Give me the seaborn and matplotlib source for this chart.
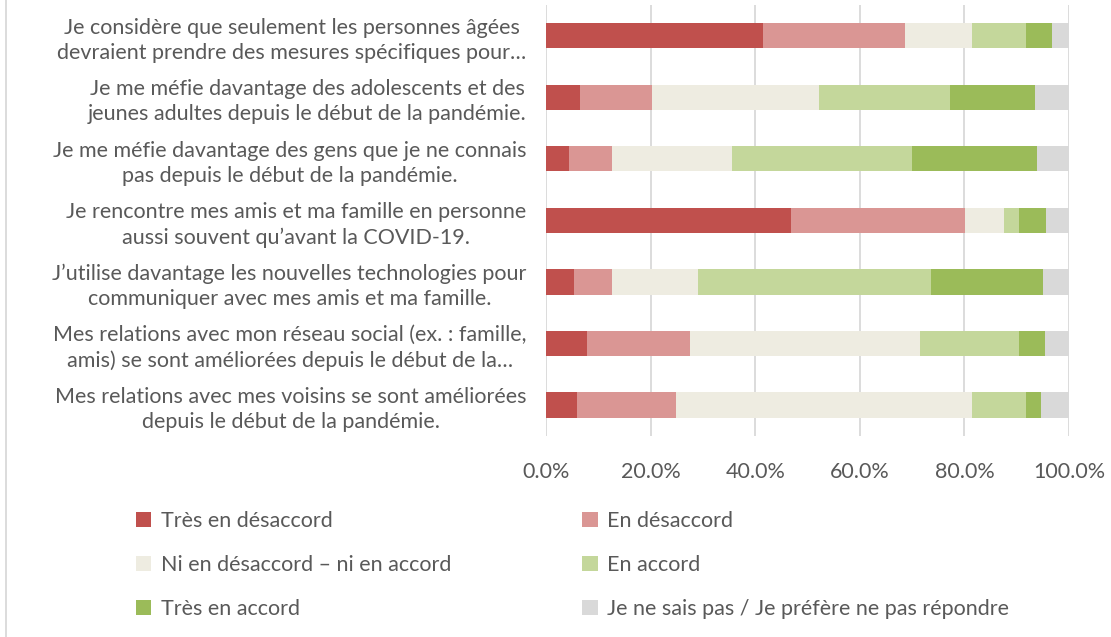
import matplotlib
matplotlib.use("Agg")
import matplotlib.pyplot as plt
import seaborn as sns
import pandas as pd
import numpy as np
from matplotlib.patches import Patch
from matplotlib.lines import Line2D

statements = [
    "Je considère que seulement les personnes âgées\ndevraient prendre des mesures spécifiques pour…",
    "Je me méfie davantage des adolescents et des\njeunes adultes depuis le début de la pandémie.",
    "Je me méfie davantage des gens que je ne connais\npas depuis le début de la pandémie.",
    "Je rencontre mes amis et ma famille en personne\naussi souvent qu’avant la COVID-19.",
    "J’utilise davantage les nouvelles technologies pour\ncommuniquer avec mes amis et ma famille.",
    "Mes relations avec mon réseau social (ex. : famille,\namis) se sont améliorées depuis le début de la…",
    "Mes relations avec mes voisins se sont améliorées\ndepuis le début de la pandémie.",
]

categories = ["Très en désaccord", "En désaccord", "Ni en désaccord – ni en accord",
              "En accord", "Très en accord", "Je ne sais pas / Je préfère ne pas répondre"]

tres_desaccord = [41.5, 6.5, 4.4, 46.9, 5.3, 7.8, 6.0]
en_desaccord   = [27.2, 13.7, 8.3, 33.2, 7.4, 19.8, 18.9]
ni_ni          = [12.7, 32.0, 22.9, 7.5, 16.4, 43.9, 56.5]
en_accord      = [10.3, 25.1, 34.3, 2.9, 44.6, 19.0, 10.3]
tres_accord    = [5.0, 16.2, 23.9, 5.1, 21.3, 4.9, 2.9]
ne_sais_pas    = [3.3, 6.5, 6.2, 4.4, 5.0, 4.6, 5.4]

colors = ["#C0504D", "#DA9694", "#EEECE1", "#C4D79B", "#9BBB59", "#D9D9D9"]

series = [tres_desaccord, en_desaccord, ni_ni, en_accord, tres_accord, ne_sais_pas]
df = pd.DataFrame({c: s for c, s in zip(categories, series)})
df["statement"] = statements
cum = df[categories].cumsum(axis=1) / 100.0

sns.set_theme(style="white")
plt.rcParams['font.family'] = ['Lato', 'DejaVu Sans']
text_color = "#595959"

fig = plt.figure(figsize=(11.11, 6.37), dpi=100)
ax = fig.add_axes([0.4915, 0.316, 0.4707, 0.676])

for i in range(len(categories) - 1, -1, -1):
    d = pd.DataFrame({"statement": statements, "value": cum[categories[i]].values})
    sns.barplot(data=d, y="statement", x="value", color=colors[i], orient="h",
                width=0.41, ax=ax, saturation=1, edgecolor="none", linewidth=0)

ax.set_xlim(0, 1.0)
ax.set_xticks(np.arange(0, 1.01, 0.2))
ax.set_xticklabels([f"{v*100:.1f}%" for v in np.arange(0, 1.01, 0.2)])
ax.xaxis.grid(True, color="#D9D9D9", linewidth=1.3)
ax.set_axisbelow(True)
for s in ax.spines.values():
    s.set_visible(False)
ax.set_xlabel("")
ax.set_ylabel("")
ax.tick_params(axis="x", length=0, pad=19, labelsize=15.5, labelcolor=text_color)
ax.tick_params(axis="y", length=0, pad=14, labelsize=15.5, labelcolor=text_color)
for lab in ax.get_yticklabels():
    lab.set_multialignment("center")
    lab.set_linespacing(1.32)

order = [0, 2, 4, 1, 3, 5]
handles = [Patch(facecolor=colors[i], edgecolor="none") for i in order]
labels = [categories[i] for i in order]
fig.legend(handles, labels, ncol=2, loc="upper left", bbox_to_anchor=(0.105, 0.228),
           frameon=False, fontsize=15.5, labelcolor=text_color,
           handlelength=0.7, handleheight=0.7, handletextpad=0.45,
           columnspacing=6.1, labelspacing=1.12)

fig.add_artist(Line2D([6/1111, 6/1111], [0, 1], color="#D9D9D9", linewidth=1.3,
                      transform=fig.transFigure))

fig.savefig("out.png", dpi=100)
